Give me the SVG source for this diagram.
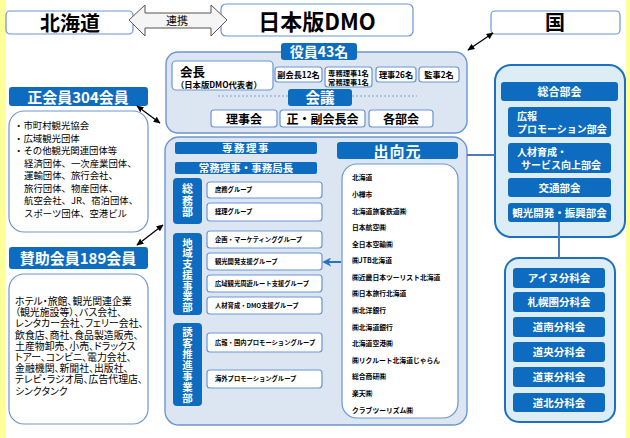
<svg xmlns="http://www.w3.org/2000/svg" width="630" height="438" viewBox="0 0 630 438">
<defs>
<marker id="ah" viewBox="0 0 10 10" refX="9" refY="5" markerWidth="7" markerHeight="7" orient="auto-start-reverse" markerUnits="userSpaceOnUse"><path d="M0,0.5 L10,5 L0,9.5 Z" fill="#000"/></marker>
<marker id="bh" viewBox="0 0 10 10" refX="8" refY="5" markerWidth="9" markerHeight="9" orient="auto" markerUnits="userSpaceOnUse"><path d="M0,0 L10,5 L0,10 L3,5 Z" fill="#2a72c4"/></marker>
</defs>
<style>
text{font-family:"Noto Sans CJK JP","Noto Sans",sans-serif;}
.wb{fill:#fff;stroke:#6b95d2;stroke-width:1.2}
.pane{fill:#dce6f2;stroke:#6b95d2;stroke-width:1.4}
.rpane{fill:#ddedf5;stroke:#1c6fc1;stroke-width:2}
.tab{fill:#0d6cbf}
.wt{fill:#fff;font-weight:bold;text-anchor:middle}
.vt{fill:#fff;font-weight:bold;text-anchor:middle;writing-mode:vertical-rl}
.bk{fill:#000;font-weight:bold}
.c{text-anchor:middle}
.grp{fill:#000;font-size:6.3px;font-weight:bold}
.src{fill:#000;font-size:6.8px;font-weight:bold}
.lst{fill:#000;font-size:9.4px}
.lst2{fill:#000;font-size:9.9px;font-feature-settings:"palt"}
.dbl{stroke:#000;stroke-width:1.3;fill:none;marker-start:url(#ah);marker-end:url(#ah)}
</style>
<rect x="0" y="0" width="6" height="438" fill="#ffff99"/>
<rect x="626" y="0" width="4" height="438" fill="#ffff99"/>

<g id="hokkaido">
<rect class="wb" x="6" y="11" width="127" height="23" rx="4"/>
<text class="bk c" x="70" y="31" font-size="20">北海道</text>
</g>

<g id="dmo">
<rect class="wb" x="221" y="4" width="192" height="32" rx="5"/>
<text class="bk c" x="317" y="30" font-size="22">日本版DMO</text>
</g>

<g id="kuni">
<rect class="wb" x="491" y="11" width="129" height="23" rx="4"/>
<text class="bk c" x="555" y="30" font-size="20">国</text>
</g>

<g id="yakuin">
<rect class="pane" x="166" y="52" width="301" height="81" rx="12"/>
<rect class="tab" x="281" y="43" width="76" height="17" rx="3"/>
<text class="wt" x="319" y="57" font-size="14">役員43名</text>
<rect class="wb" x="172" y="61" width="101" height="29" rx="4"/>
<text class="bk" x="180" y="77" font-size="12.5">会長</text>
<text class="bk" x="176" y="87.5" font-size="8.3">（日本版DMO代表者）</text>
<rect class="wb" x="275" y="67" width="47" height="15" rx="3"/>
<text class="bk c" x="298.5" y="78" font-size="8.2">副会長12名</text>
<rect class="wb" x="325" y="67" width="47" height="20" rx="3"/>
<text class="bk c" x="348.5" y="75.5" font-size="7.3">専務理事1名</text>
<text class="bk c" x="348.5" y="84.5" font-size="7.3">常務理事1名</text>
<rect class="wb" x="376" y="67" width="40" height="15" rx="3"/>
<text class="bk c" x="396" y="78" font-size="8.2">理事26名</text>
<rect class="wb" x="419" y="67" width="40" height="15" rx="3"/>
<text class="bk c" x="439" y="78" font-size="8.2">監事2名</text>
<line x1="218" y1="96" x2="288" y2="96" stroke="#7fa0d0" stroke-width="1" stroke-dasharray="2,2"/>
<line x1="352" y1="96" x2="417" y2="96" stroke="#7fa0d0" stroke-width="1" stroke-dasharray="2,2"/>
<rect class="tab" x="288" y="89" width="64" height="17" rx="3"/>
<text class="wt" x="320" y="103" font-size="14.5">会議</text>
<rect class="wb" x="211" y="110" width="66" height="17" rx="3"/>
<text class="bk c" x="244" y="123.5" font-size="12">理事会</text>
<rect class="wb" x="280" y="110" width="85" height="17" rx="3"/>
<text class="bk c" x="322.5" y="123.5" font-size="12">正・副会長会</text>
<rect class="wb" x="369" y="110" width="64" height="17" rx="3"/>
<text class="bk c" x="401" y="123.5" font-size="12">各部会</text>
</g>

<g id="seikaiin">
<rect class="tab" x="9" y="87" width="139" height="19" rx="3"/>
<text class="wt" x="78" y="102.5" font-size="15">正会員304会員</text>
<rect class="wb" x="9" y="111" width="139" height="121" rx="15"/>
<text class="lst" x="14" y="129">・市町村観光協会</text>
<text class="lst" x="14" y="141.5">・広域観光団体</text>
<text class="lst" x="14" y="154">・その他観光関連団体等</text>
<text class="lst" x="24" y="166.5">経済団体、一次産業団体、</text>
<text class="lst" x="24" y="179">運輸団体、旅行会社、</text>
<text class="lst" x="24" y="191.5">旅行団体、物産団体、</text>
<text class="lst" x="24" y="204">航空会社、JR、宿泊団体、</text>
<text class="lst" x="24" y="216.5">スポーツ団体、空港ビル</text>
</g>

<g id="sanjo">
<rect class="tab" x="9" y="247" width="139" height="22" rx="3"/>
<text class="wt" x="78" y="264" font-size="15">賛助会員189会員</text>
<rect class="wb" x="9" y="274" width="139" height="150" rx="15"/>
<text class="lst2" x="15" y="305">ホテル・旅館、観光関連企業</text>
<text class="lst2" x="15" y="316.2">（観光施設等）、バス会社、</text>
<text class="lst2" x="15" y="327.4">レンタカー会社、フェリー会社、</text>
<text class="lst2" x="15" y="338.6">飲食店、商社、食品製造販売、</text>
<text class="lst2" x="15" y="349.8">土産物卸売、小売、ドラックス</text>
<text class="lst2" x="15" y="361">トアー、コンビニ、電力会社、</text>
<text class="lst2" x="15" y="372.2">金融機関、新聞社、出版社、</text>
<text class="lst2" x="15" y="383.4">テレビ・ラジオ局、広告代理店、</text>
<text class="lst2" x="15" y="394.6">シンクタンク</text>
</g>

<g id="jimukyoku">
<rect class="pane" x="165" y="137" width="302" height="288" rx="14"/>
<rect class="tab" x="175" y="142" width="142" height="12" rx="2"/>
<text class="wt" x="246" y="152" font-size="10.5" letter-spacing="1.5">専務理事</text>
<rect class="tab" x="175" y="162" width="142" height="12" rx="2"/>
<text class="wt" x="246" y="172" font-size="10.5">常務理事・事務局長</text>
</g>

<g id="somubu">
<rect class="tab" x="173" y="178" width="29" height="46" rx="4"/>
<text class="vt" x="187.5" y="201" font-size="11" letter-spacing="0.5">総務部</text>
<rect class="wb" x="207" y="182" width="115" height="16" rx="3"/>
<text class="grp" x="215" y="192.3">庶務グループ</text>
<rect class="wb" x="207" y="203" width="115" height="18" rx="3"/>
<text class="grp" x="215" y="214.3">経理グループ</text>
</g>

<g id="chiikibu">
<rect class="tab" x="173" y="233" width="29" height="82" rx="4"/>
<text class="vt" x="187.5" y="275" font-size="10.5" letter-spacing="0.2">地域支援事業部</text>
<rect class="wb" x="207" y="231" width="115" height="17" rx="3"/>
<text class="grp" x="215" y="241.8">企画・マーケティンググループ</text>
<rect class="wb" x="207" y="253" width="115" height="17" rx="3"/>
<text class="grp" x="215" y="263.8">観光開発支援グループ</text>
<rect class="wb" x="207" y="275" width="115" height="17" rx="3"/>
<text class="grp" x="215" y="285.8">広域観光周遊ルート支援グループ</text>
<rect class="wb" x="207" y="297" width="115" height="17" rx="3"/>
<text class="grp" x="215" y="307.8">人材育成・DMO支援グループ</text>
</g>

<g id="yukyakubu">
<rect class="tab" x="173" y="323" width="29" height="83" rx="4"/>
<text class="vt" x="187.5" y="365" font-size="10.5" letter-spacing="0.5">誘客推進事業部</text>
<rect class="wb" x="207" y="333" width="115" height="19" rx="3"/>
<text class="grp" x="215" y="344.8">広報・国内プロモーショングループ</text>
<rect class="wb" x="207" y="370" width="115" height="18" rx="3"/>
<text class="grp" x="215" y="381.3">海外プロモーショングループ</text>
</g>

<g id="shukkomoto">
<rect class="tab" x="337" y="142" width="121" height="17" rx="3"/>
<text class="wt" x="397.5" y="156.5" font-size="15" letter-spacing="1">出向元</text>
<rect class="wb" x="342" y="164" width="116" height="254" rx="15"/>
<text class="src" x="352" y="180.4">北海道</text>
<text class="src" x="352" y="197">小樽市</text>
<text class="src" x="352" y="213.5">北海道旅客鉄道㈱</text>
<text class="src" x="352" y="230">日本航空㈱</text>
<text class="src" x="352" y="246.6">全日本空輸㈱</text>
<text class="src" x="352" y="263.2">㈱JTB北海道</text>
<text class="src" x="352" y="279.8">㈱近畿日本ツーリスト北海道</text>
<text class="src" x="352" y="296.4">㈱日本旅行北海道</text>
<text class="src" x="352" y="313">㈱北洋銀行</text>
<text class="src" x="352" y="329.6">㈱北海道銀行</text>
<text class="src" x="352" y="346.2">北海道空港㈱</text>
<text class="src" x="352" y="362.8">㈱リクルート北海道じゃらん</text>
<text class="src" x="352" y="379.4">総合商研㈱</text>
<text class="src" x="352" y="396">楽天㈱</text>
<text class="src" x="352" y="412.6">クラブツーリズム㈱</text>
</g>

<g id="bukai">
<rect class="rpane" x="495" y="65" width="130" height="172" rx="16"/>
<rect class="tab" x="501" y="82" width="117" height="19" rx="3"/>
<text class="wt" x="559.5" y="96" font-size="11">総合部会</text>
<rect class="tab" x="508" y="107" width="103" height="30" rx="3"/>
<text fill="#fff" font-weight="bold" font-size="10" x="517" y="120">広報</text>
<text fill="#fff" font-weight="bold" font-size="10" x="517" y="133">プロモーション部会</text>
<rect class="tab" x="508" y="143" width="103" height="30" rx="3"/>
<text fill="#fff" font-weight="bold" font-size="10" x="517" y="156">人材育成・</text>
<text fill="#fff" font-weight="bold" font-size="10" x="521" y="169">サービス向上部会</text>
<rect class="tab" x="508" y="178" width="103" height="19" rx="3"/>
<text class="wt" x="559.5" y="191.5" font-size="10.5">交通部会</text>
<rect class="tab" x="508" y="203" width="103" height="19" rx="3"/>
<text class="wt" x="559.5" y="216.5" font-size="10.5">観光開発・振興部会</text>
</g>

<g id="bunkakai">
<rect class="rpane" x="505" y="258" width="110" height="164" rx="14"/>
<rect class="tab" x="513" y="268" width="92" height="20" rx="3"/>
<text class="wt" x="559" y="282" font-size="10.5">アイヌ分科会</text>
<rect class="tab" x="513" y="292" width="92" height="20" rx="3"/>
<text class="wt" x="559" y="306" font-size="10.5">札幌圏分科会</text>
<rect class="tab" x="513" y="317" width="92" height="20" rx="3"/>
<text class="wt" x="559" y="331" font-size="10.5">道南分科会</text>
<rect class="tab" x="513" y="342" width="92" height="20" rx="3"/>
<text class="wt" x="559" y="356" font-size="10.5">道央分科会</text>
<rect class="tab" x="513" y="367" width="92" height="20" rx="3"/>
<text class="wt" x="559" y="381" font-size="10.5">道東分科会</text>
<rect class="tab" x="513" y="393" width="92" height="19" rx="3"/>
<text class="wt" x="559" y="406.5" font-size="10.5">道北分科会</text>
</g>

<g id="connectors">
<polygon points="129,20 145,5 145,13 211,13 211,5 227,20 211,36 211,28 145,28 145,36" fill="#f5f5f5" stroke="#555" stroke-width="1"/>
<text x="177" y="24.5" font-size="11" class="c" fill="#000">連携</text>
<line class="dbl" x1="137" y1="106" x2="160" y2="123"/>
<line class="dbl" x1="137" y1="245" x2="163" y2="225"/>
<line class="dbl" x1="468" y1="50" x2="493" y2="33"/>
<line x1="467" y1="155" x2="495" y2="155" stroke="#4a7cc0" stroke-width="2"/>
<line x1="559" y1="222" x2="559" y2="258" stroke="#4a7cc0" stroke-width="2"/>
<line x1="341" y1="262" x2="324" y2="262" stroke="#2a72c4" stroke-width="2" marker-end="url(#bh)"/>
</g>
</svg>
